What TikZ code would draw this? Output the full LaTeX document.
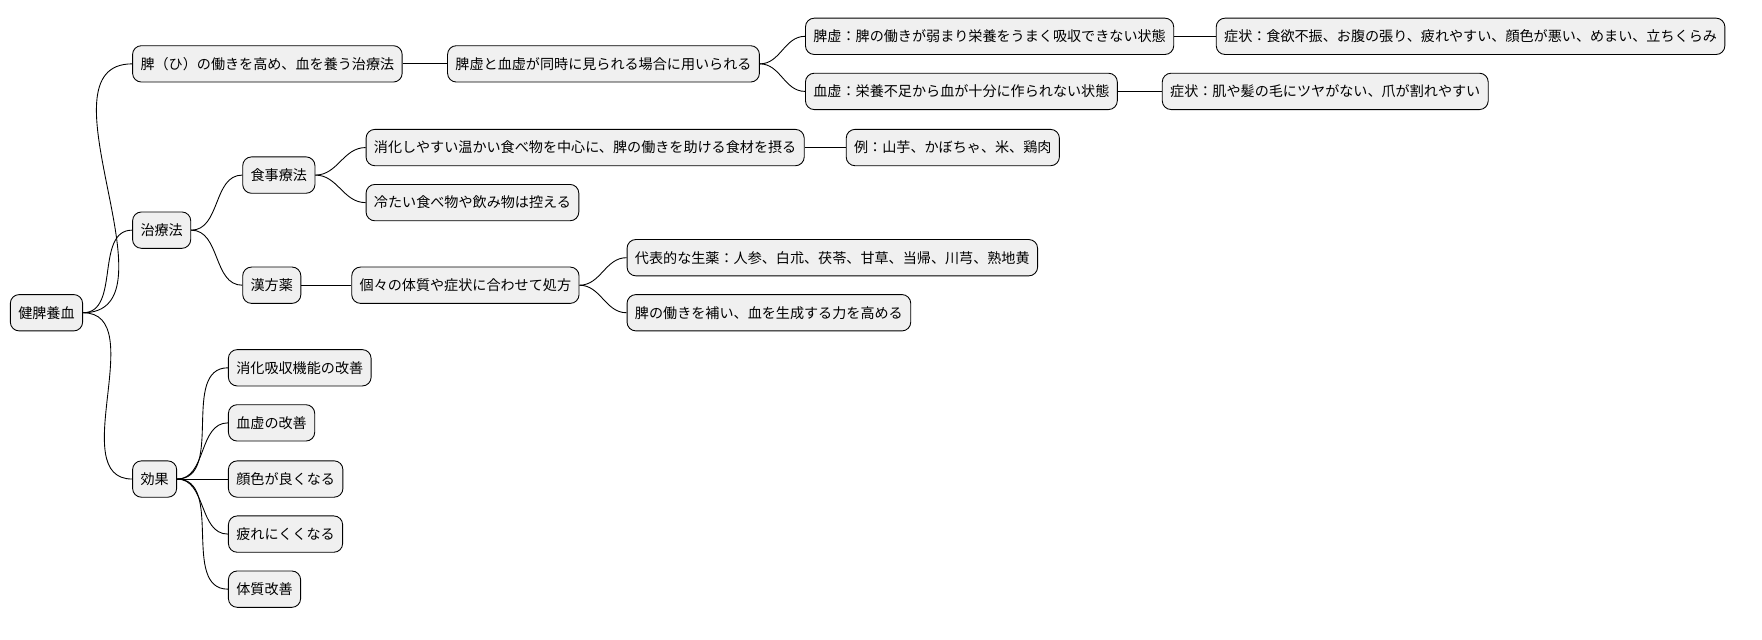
\documentclass[tikz,border=0pt]{standalone}
\usepackage{fontspec}
\setmainfont{Noto Sans CJK JP}
\begin{document}
\begin{tikzpicture}[x=0.5pt, y=-0.5pt,
  every node/.style={draw, rounded corners=4pt, fill=gray!12, anchor=west,
    minimum height=16.5pt, inner xsep=3.6pt, inner ysep=0pt, font=\fontsize{6.4pt}{7pt}\selectfont},
  link/.style={draw, line width=0.4pt}
]
\useasboundingbox (0,0) rectangle (1600,581);
% Define the nodes
\node (root) at (9,284) {健脾養血};
\node (hi) at (120,58) {脾（ひ）の働きを高め、血を養う治療法};
\node (cure) at (120,209) {治療法};
\node (eff) at (120,435) {効果};
\node (both) at (406,58) {脾虚と血虚が同時に見られる場合に用いられる};
\node (hikyo) at (731,33) {脾虚：脾の働きが弱まり栄養をうまく吸収できない状態};
\node (kekkyo) at (731,83) {血虚：栄養不足から血が十分に作られない状態};
\node (sym1) at (1104,33) {症状：食欲不振、お腹の張り、疲れやすい、顔色が悪い、めまい、立ちくらみ};
\node (sym2) at (1055,83) {症状：肌や髪の毛にツヤがない、爪が割れやすい};
\node (diet) at (220,159) {食事療法};
\node (kampo) at (220,259) {漢方薬};
\node (warm) at (332,134) {消化しやすい温かい食べ物を中心に、脾の働きを助ける食材を摂る};
\node (cold) at (332,184) {冷たい食べ物や飲み物は控える};
\node (food) at (768,134) {例：山芋、かぼちゃ、米、鶏肉};
\node (indiv) at (319,259) {個々の体質や症状に合わせて処方};
\node (herb) at (569,234) {代表的な生薬：人参、白朮、茯苓、甘草、当帰、川芎、熟地黄};
\node (help) at (569,284) {脾の働きを補い、血を生成する力を高める};
\node (e1) at (207,334) {消化吸収機能の改善};
\node (e2) at (207,384) {血虚の改善};
\node (e3) at (207,435) {顔色が良くなる};
\node (e4) at (207,485) {疲れにくくなる};
\node (e5) at (207,535) {体質改善};
% Define the edges
\foreach \p/\c in {root/hi, root/cure, root/eff, hi/both, both/hikyo, both/kekkyo,
  hikyo/sym1, kekkyo/sym2, cure/diet, cure/kampo, diet/warm, diet/cold, warm/food,
  kampo/indiv, indiv/herb, indiv/help, eff/e1, eff/e2, eff/e3, eff/e4, eff/e5}
  \path[link] (\p.east) to[out=0, in=180] (\c.west);
\end{tikzpicture}
\end{document}
